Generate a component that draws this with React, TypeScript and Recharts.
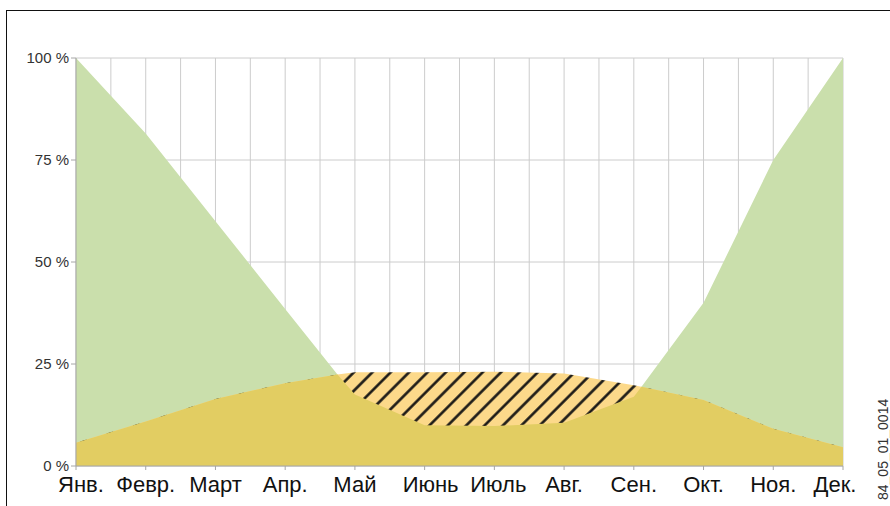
import { ComposedChart, Area, XAxis, YAxis, CartesianGrid } from 'recharts'

const MONTHS = ['Янв.', 'Февр.', 'Март', 'Апр.', 'Май', 'Июнь', 'Июль', 'Авг.', 'Сен.', 'Окт.', 'Ноя.', 'Дек.']
// heat demand, % of the January peak
const HEAT_DEMAND = [100, 81.5, 60, 38.5, 17.5, 10, 9.8, 10.6, 17, 40, 75, 100]
// solar yield, same scale
const SOLAR_YIELD = [5.7, 10.9, 16.4, 20.3, 23, 23, 23.1, 22.7, 19.8, 16.2, 9.1, 4.6]
// points where the two lines cross: [month index, %]
const CROSSINGS: [number, number][] = [
  [3.75, 22.4],
  [8.11, 19.4],
]
const Y_TICKS = [0, 25, 50, 75, 100]
const CODE = '84_05_01_0014'

const FONT = "'Liberation Sans', Arial, sans-serif"
const NARROW = "'Liberation Sans Narrow', 'Arial Narrow', 'Liberation Sans', sans-serif"

const data = [
  ...MONTHS.map((_, i) => ({
    m: i,
    demand: HEAT_DEMAND[i],
    solar: SOLAR_YIELD[i],
    covered: Math.min(HEAT_DEMAND[i], SOLAR_YIELD[i]),
  })),
  ...CROSSINGS.map(([m, v]) => ({ m, demand: v, solar: v, covered: v })),
].sort((a, b) => a.m - b.m)

// first and last labels are pulled inward a little
const LABEL_SHIFT: Record<number, number> = { 0: 5, 5: 6, 6: 4, 11: -8 }

function MonthTick(props: any) {
  const { x, y, payload } = props
  const i = payload.value as number
  return (
    <text
      x={x + (LABEL_SHIFT[i] ?? 0)}
      y={y}
      dy="0.71em"
      textAnchor="middle"
      fontSize={22}
      fontFamily={NARROW}
      fill="#111"
    >
      {MONTHS[i]}
    </text>
  )
}

export default function App() {
  return (
    <div
      style={{
        position: 'absolute',
        left: 0,
        top: 0,
        width: 890,
        height: 506,
        overflow: 'hidden',
        background: '#fff',
      }}
    >
      <div
        style={{
          position: 'absolute',
          left: 6,
          top: 10,
          width: 1000,
          height: 1000,
          borderTop: '1.5px solid #111',
          borderLeft: '1.5px solid #111',
        }}
      />
      <div style={{ position: 'absolute', left: 0, top: 0 }}>
        <ComposedChart
          width={890}
          height={506}
          data={data}
          margin={{ top: 58, right: 47, bottom: 4, left: 16 }}
        >
          <defs>
            <pattern
              id="surplus"
              patternUnits="userSpaceOnUse"
              width={13}
              height={13}
              patternTransform="rotate(45)"
            >
              <rect width={13} height={13} fill="#fcd98a" />
              <line x1={6.5} y1={0} x2={6.5} y2={13} stroke="#111" strokeWidth={2.5} />
            </pattern>
          </defs>
          <CartesianGrid
            stroke="#cccccc"
            verticalCoordinatesGenerator={({ offset }: any) =>
              Array.from({ length: 23 }, (_, k) => offset.left + (k * offset.width) / 22)
            }
          />
          <XAxis
            dataKey="m"
            type="number"
            domain={[0, 11]}
            ticks={MONTHS.map((_, i) => i)}
            interval={0}
            height={36}
            tickSize={4}
            tickMargin={6}
            stroke="#a6a6a6"
            tick={<MonthTick />}
          />
          <YAxis
            type="number"
            domain={[0, 100]}
            ticks={Y_TICKS}
            width={60}
            tickSize={5}
            tickMargin={2}
            stroke="#a6a6a6"
            tickFormatter={(v: number) => `${v} %`}
            tick={{ fontSize: 15, fill: '#333', fontFamily: FONT }}
          />
          <Area
            type="linear"
            dataKey="demand"
            stroke="none"
            fill="#cadfac"
            fillOpacity={1}
            isAnimationActive={false}
          />
          <Area
            type="linear"
            dataKey="solar"
            stroke="none"
            fill="url(#surplus)"
            fillOpacity={1}
            isAnimationActive={false}
          />
          <Area
            type="linear"
            dataKey="covered"
            stroke="none"
            fill="#e2cd62"
            fillOpacity={1}
            isAnimationActive={false}
          />
        </ComposedChart>
      </div>
      <svg
        width={890}
        height={506}
        style={{ position: 'absolute', left: 0, top: 0, pointerEvents: 'none' }}
      >
        <text
          transform="translate(888,500) rotate(-90)"
          fontSize={14}
          fontFamily={FONT}
          fill="#333"
        >
          {CODE}
        </text>
      </svg>
    </div>
  )
}
